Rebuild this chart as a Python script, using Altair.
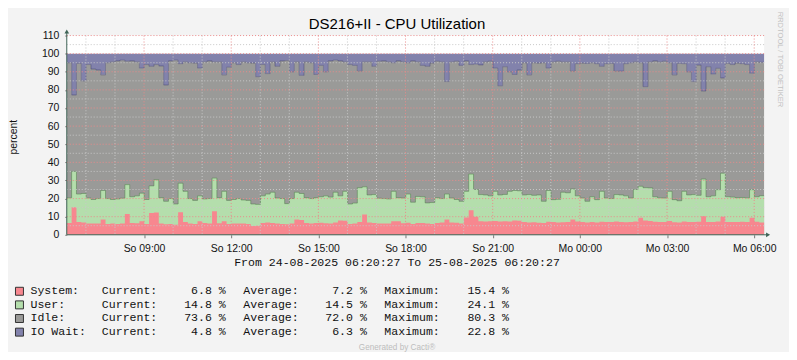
import altair as alt
import pandas as pd

# ---------------- text ----------------
title_text = "DS216+II - CPU Utilization"
y_title = "percent"
period_text = "From 24-08-2025 06:20:27 To 25-08-2025 06:20:27"
credit_text = "Generated by Cacti\u00ae"
watermark = "RRDTOOL / TOBI OETIKER"

# ---------------- time base ----------------
start = "2025-08-24 06:20:27"
end = "2025-08-25 06:20:27"
step = "10min"

# ---------------- series (percent) ----------------
system = [
    6.5, 15.2, 7.0, 6.8, 6.3, 6.3, 6.2, 8.5, 6.0, 6.2, 6.0, 6.3,
    11.5, 6.5, 6.4, 7.5, 6.0, 12.0, 12.3, 6.2, 5.8, 6.0, 5.5, 12.5,
    7.0, 6.3, 6.0, 7.5, 6.5, 6.2, 13.0, 6.4, 7.5, 6.0, 6.2, 6.3,
    6.3, 6.0, 4.8, 5.0, 6.5, 6.8, 6.5, 6.2, 6.0, 5.8, 6.2, 8.4,
    8.2, 6.5, 6.3, 6.5, 6.6, 6.4, 6.3, 6.8, 7.9, 7.8, 6.0, 6.2,
    7.0, 11.2, 6.8, 6.5, 6.3, 6.2, 6.3, 7.5, 7.5, 6.4, 6.6, 6.0,
    6.5, 6.5, 6.2, 6.0, 6.5, 6.8, 8.4, 6.8, 6.6, 6.2, 9.5, 13.6,
    10.0, 7.5, 7.4, 7.5, 7.6, 7.3, 7.5, 7.4, 7.9, 7.8, 7.0, 6.8,
    6.9, 6.7, 6.5, 7.2, 7.0, 6.8, 6.9, 7.0, 8.4, 7.3, 7.0, 6.8,
    7.0, 6.8, 7.2, 7.0, 7.1, 7.3, 7.0, 6.9, 7.1, 7.4, 9.4, 7.9,
    7.6, 7.2, 7.0, 7.1, 7.6, 6.9, 6.8, 7.3, 7.1, 7.0, 7.2, 10.3,
    7.0, 7.1, 7.3, 9.9, 7.0, 7.1, 7.0, 7.2, 7.0, 9.4, 7.2, 6.8,
]
user = [
    13.9, 19.8, 15.5, 16.0, 14.0, 13.2, 13.8, 16.0, 14.0, 13.3, 13.8, 13.9,
    16.2, 14.5, 15.1, 15.5, 13.5, 15.0, 18.1, 14.3, 12.7, 14.0, 11.5, 16.0,
    17.0, 13.7, 13.0, 14.0, 13.3, 13.8, 18.3, 14.1, 16.5, 13.0, 13.3, 13.7,
    12.9, 13.0, 12.2, 11.8, 15.0, 15.7, 17.0, 14.1, 14.0, 11.4, 13.8, 15.1,
    14.6, 14.0, 13.7, 14.0, 14.4, 15.1, 14.5, 16.7, 13.6, 16.2, 11.0, 11.3,
    19.0, 15.3, 15.2, 15.7, 13.9, 13.8, 13.5, 16.5, 13.0, 13.9, 15.9, 12.0,
    14.7, 14.5, 11.4, 11.8, 14.0, 13.2, 14.1, 13.5, 12.9, 12.3, 14.5, 19.9,
    15.0, 14.7, 14.6, 14.0, 16.4, 14.7, 14.8, 16.6, 16.6, 16.5, 15.0, 15.4,
    14.9, 15.3, 12.0, 17.3, 12.4, 12.8, 16.6, 16.2, 16.9, 14.2, 13.3, 11.7,
    14.0, 12.6, 16.8, 13.3, 12.9, 14.9, 15.0, 14.6, 13.2, 17.6, 17.4, 18.1,
    18.3, 13.8, 13.4, 13.2, 16.4, 12.5, 12.0, 16.7, 14.9, 15.2, 14.6, 20.5,
    14.0, 14.4, 17.6, 24.1, 14.0, 13.7, 13.5, 13.4, 13.4, 15.5, 13.8, 14.8,
]
iowait = [
    5.0, 22.8, 5.4, 15.0, 6.0, 8.5, 9.0, 11.7, 5.0, 4.5, 4.0, 3.6,
    4.2, 4.0, 4.5, 8.0, 6.0, 7.0, 6.0, 6.8, 17.3, 4.0, 3.6, 5.5,
    4.5, 5.0, 5.2, 8.0, 4.5, 4.0, 4.5, 4.5, 11.7, 7.5, 5.0, 6.0,
    4.5, 5.0, 5.2, 12.7, 6.0, 11.0, 4.5, 7.0, 4.0, 3.8, 10.0, 4.5,
    12.0, 4.5, 5.0, 11.5, 6.5, 10.0, 4.0, 3.6, 4.0, 4.5, 6.0, 6.5,
    9.5, 4.5, 4.5, 7.0, 4.2, 4.0, 4.5, 5.0, 4.0, 4.5, 5.0, 4.0,
    4.5, 6.5, 7.0, 5.2, 4.2, 4.5, 15.4, 4.5, 4.2, 6.5, 4.0, 6.0,
    5.8, 6.2, 4.5, 4.2, 8.0, 17.7, 7.2, 10.0, 11.5, 9.0, 5.0, 11.7,
    5.0, 5.2, 5.0, 8.0, 4.5, 4.2, 4.5, 4.5, 9.5, 5.5, 5.2, 5.4,
    5.0, 5.5, 7.0, 5.5, 5.4, 9.5, 9.7, 5.5, 5.0, 4.5, 5.0, 18.2,
    4.5, 4.0, 4.5, 4.2, 5.0, 11.7, 5.4, 5.5, 10.0, 15.4, 6.3, 20.6,
    7.2, 11.3, 8.1, 13.4, 5.4, 6.0, 5.2, 5.5, 6.0, 10.8, 4.5, 4.8,
]

# ---------------- legend ----------------
series_names = ["System:", "User:", "Idle:", "IO Wait:"]
series_colors = ["#F7878F", "#B4DEAC", "#9A9A98", "#8282AC"]
current = [6.8, 14.8, 73.6, 4.8]
average = [7.2, 14.5, 72.0, 6.3]
maximum = [15.4, 24.1, 80.3, 22.8]

# ---------------- axes ----------------
tick_times = ["2025-08-24 09:00", "2025-08-24 12:00", "2025-08-24 15:00",
              "2025-08-24 18:00", "2025-08-24 21:00", "2025-08-25 00:00",
              "2025-08-25 03:00", "2025-08-25 06:00"]
tick_labels = ["So 09:00", "So 12:00", "So 15:00", "So 18:00", "So 21:00",
               "Mo 00:00", "Mo 03:00", "Mo 06:00"]
y_ticks = list(range(0, 111, 10))

FONT = "Liberation Sans"
MONO = "Liberation Mono"
W, H = 700, 200

# ---------------- data table ----------------
times = pd.date_range(start, periods=len(system), freq=step)
df = pd.DataFrame({"t": times, "system": system, "user": user, "iowait": iowait})
last = df.iloc[[-1]].copy()
last["t"] = pd.Timestamp(end)
df = pd.concat([df, last], ignore_index=True)
df["t"] = df["t"].dt.strftime("%Y-%m-%dT%H:%M:%S")

tick_keys = [pd.Timestamp(s).strftime("%d %H:%M") for s in tick_times]
label_expr = "{}[indexof({}, timeFormat(datum.value, '%d %H:%M'))]".format(
    tick_labels, tick_keys)
tick_dt = [pd.Timestamp(s) for s in tick_times]


def dt(d):
    return alt.DateTime(year=d.year, month=d.month, date=d.day, hours=d.hour,
                        minutes=d.minute, seconds=d.second)


tick_values = [dt(d) for d in tick_dt]
xscale = alt.Scale(domain=[dt(pd.Timestamp(start)), dt(pd.Timestamp(end))], nice=False)
yscale = alt.Scale(domain=[0, 110], nice=False, zero=True)

xaxis = alt.Axis(values=tick_values, labelExpr=label_expr, title=None, grid=False,
                 domain=False, tickSize=3, tickColor="#777", labelPadding=6,
                 labelFont=FONT, labelFontSize=10.5, labelColor="#111")
yaxis = alt.Axis(values=y_ticks, title=None, grid=False, domain=False, tickSize=2,
                 tickColor="#777", labelPadding=6, labelFont=FONT,
                 labelFontSize=10.5, labelColor="#111")


def X(field="t"):
    return alt.X(f"{field}:T", scale=xscale, axis=xaxis, title=None)


def Y(field):
    return alt.Y(f"{field}:Q", scale=yscale, axis=yaxis, title=None)


base = alt.Chart(df).transform_calculate(
    s_top="datum.system",
    u_top="datum.system + datum.user",
    i_top="100 - datum.iowait",
    full="100",
)

blue = base.mark_area(interpolate="step-after", color=series_colors[3]).encode(
    x=X(), y=Y("i_top"), y2="full:Q")
gray = base.mark_area(interpolate="step-after", color=series_colors[2]).encode(
    x=X(), y=Y("i_top"))
green = base.mark_area(interpolate="step-after", color=series_colors[1]).encode(
    x=X(), y=Y("u_top"))
red = base.mark_area(interpolate="step-after", color=series_colors[0]).encode(
    x=X(), y=Y("s_top"))
green_line = base.mark_line(interpolate="step-after", color="#4f7d4a",
                            strokeWidth=1, opacity=0.5).encode(x=X(), y=Y("u_top"))
gray_line = base.mark_line(interpolate="step-after", color="#3a3a66",
                           strokeWidth=1, opacity=0.45).encode(x=X(), y=Y("i_top"))

# ---------------- grid ----------------
hours = pd.date_range("2025-08-24 07:00", "2025-08-25 06:00", freq="h")
minor_hours = [h.strftime("%Y-%m-%dT%H:%M:%S") for h in hours if h not in tick_dt]
major_hours = [d.strftime("%Y-%m-%dT%H:%M:%S") for d in tick_dt]
minor_y = [v + 5 for v in y_ticks[:-1]]
major_y = y_ticks[1:]

dash = [1, 2]
gx_minor = alt.Chart(pd.DataFrame({"t": minor_hours})).mark_rule(
    color="#c8c8c8", strokeDash=dash, strokeWidth=1).encode(
    x=X(), y=alt.value(0), y2=alt.value(H))
gx_major = alt.Chart(pd.DataFrame({"t": major_hours})).mark_rule(
    color="#ea8a8a", strokeDash=dash, strokeWidth=1).encode(
    x=X(), y=alt.value(0), y2=alt.value(H))
gy_minor = alt.Chart(pd.DataFrame({"v": minor_y})).mark_rule(
    color="#c8c8c8", strokeDash=dash, strokeWidth=1).encode(
    y=Y("v"), x=alt.value(0), x2=alt.value(W))
gy_major = alt.Chart(pd.DataFrame({"v": major_y})).mark_rule(
    color="#ea8a8a", strokeDash=dash, strokeWidth=1).encode(
    y=Y("v"), x=alt.value(0), x2=alt.value(W))

# ---------------- axis lines with arrows ----------------
AX = "#3f6457"
one = pd.DataFrame({"k": [0]})
y_line = alt.Chart(one).mark_rule(color=AX, strokeWidth=1).encode(
    x=alt.value(0), y=alt.value(H), y2=alt.value(-3))
x_line = alt.Chart(one).mark_rule(color=AX, strokeWidth=1).encode(
    y=alt.value(H), x=alt.value(0), x2=alt.value(W + 3))
y_arrow = alt.Chart(one).mark_point(shape="triangle-up", filled=True, color=AX,
                                    size=22, opacity=1).encode(
    x=alt.value(0), y=alt.value(-4))
x_arrow = alt.Chart(one).mark_point(shape="triangle-right", filled=True, color=AX,
                                    size=22, opacity=1).encode(
    x=alt.value(W + 4), y=alt.value(H))


# ---------------- texts ----------------
def label(text, x, y, **kw):
    return alt.Chart(pd.DataFrame({"txt": [text]})).mark_text(**kw).encode(
        x=alt.value(x), y=alt.value(y), text="txt:N")


title = label(title_text, 331.5, -6.5, font=FONT, fontSize=15, align="center",
              baseline="alphabetic", color="#000")
ytitle = label(y_title, -53, 102, font=FONT, fontSize=10.5, align="center",
               baseline="middle", angle=270, color="#111")
wmark = label(watermark, 716, 24, font=FONT, fontSize=7.6, align="center",
              baseline="middle", angle=90, color="#c2c2c2")
period = label(period_text, 331.5, 228.2, font=MONO, fontSize=11.6,
               align="center", baseline="middle", color="#111")
credit = label(credit_text, 331.5, 313.5, font=FONT, fontSize=8.2,
               align="center", baseline="middle", color="#bdbdbd")

leg = pd.DataFrame({"row": list(range(len(series_names))), "name": series_names,
                    "color": series_colors, "cur": current, "avg": average,
                    "mx": maximum})
lbase = alt.Chart(leg).transform_calculate(
    ypix="256.7 + datum.row * 13.67",
    cur_s="format(datum.cur, '.1f') + ' %'",
    avg_s="format(datum.avg, '.1f') + ' %'",
    max_s="format(datum.mx, '.1f') + ' %'",
    lc="'Current:'", la="'Average:'", lm="'Maximum:'",
)
Yp = alt.Y("ypix:Q", scale=None, axis=None)
boxes = lbase.mark_square(size=64, strokeWidth=1, stroke="#333", opacity=1).encode(
    x=alt.value(-47.5), y=Yp, fill=alt.Fill("color:N", scale=None, legend=None))


def col(field, x, align):
    return lbase.mark_text(font=MONO, fontSize=11.6, align=align, baseline="middle",
                           color="#111").encode(x=alt.value(x), y=Yp, text=f"{field}:N")


legend_layers = [
    col("name", -36.4, "left"),
    col("lc", 35.2, "left"), col("cur_s", 159.6, "right"),
    col("la", 177.2, "left"), col("avg_s", 301.2, "right"),
    col("lm", 318.8, "left"), col("max_s", 443.9, "right"),
]

chart = alt.layer(
    blue, gray, green, red, green_line, gray_line,
    gx_minor, gy_minor, gx_major, gy_major,
    y_line, x_line, y_arrow, x_arrow,
    title, ytitle, wmark, period, credit, boxes, *legend_layers,
).resolve_scale(y="shared").properties(
    width=W, height=H,
    padding={"left": 59, "top": 27, "right": 25, "bottom": 117},
    autosize=alt.AutoSizeParams(type="none"),
    background="#F3F3F3",
).configure_view(fill="white", stroke=None)

chart.save("out.html", embed_options={"renderer": "svg", "actions": False})
